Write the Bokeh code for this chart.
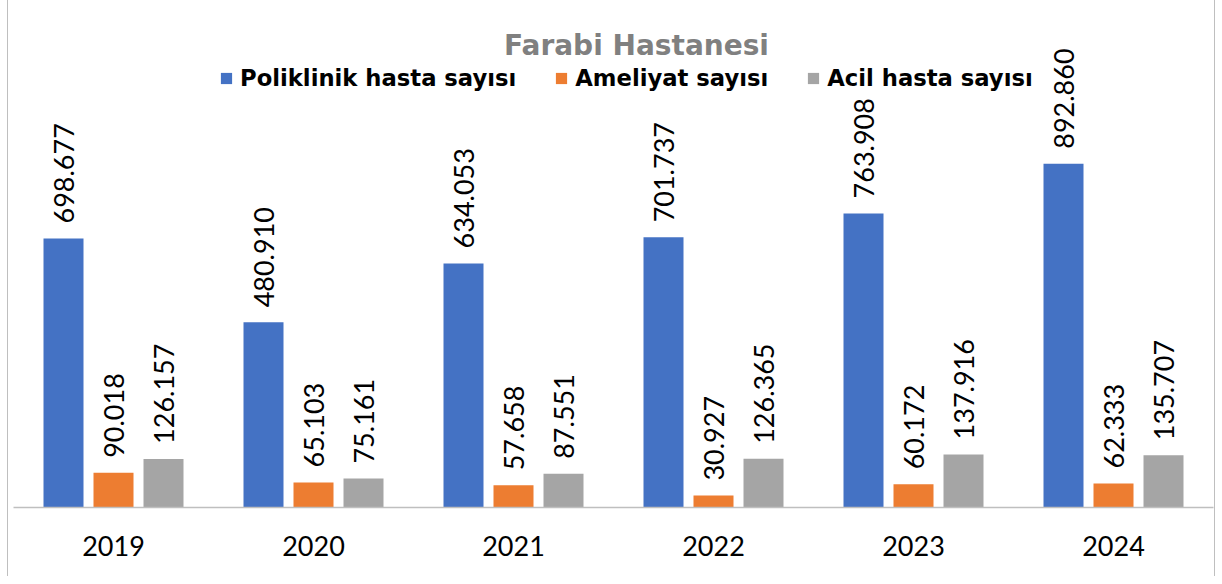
import math
from bokeh.plotting import figure
from bokeh.models import ColumnDataSource, FactorRange, Range1d, Label, Legend, LegendItem
from bokeh.transform import dodge
from bokeh.core.properties import value
from bokeh.embed import file_html
from bokeh.resources import INLINE

years = ["2019", "2020", "2021", "2022", "2023", "2024"]
poliklinik = [698677, 480910, 634053, 701737, 763908, 892860]
ameliyat = [90018, 65103, 57658, 30927, 60172, 62333]
acil = [126157, 75161, 87551, 126365, 137916, 135707]
series_names = ["Poliklinik hasta sayısı", "Ameliyat sayısı", "Acil hasta sayısı"]
colors = ["#4472C4", "#ED7D31", "#A5A5A5"]
title_text = "Farabi Hastanesi"

def fmt(v):
    return f"{v:,}".replace(",", ".")

src = ColumnDataSource(dict(
    year=years,
    pol=poliklinik, ame=ameliyat, aci=acil,
    pol_l=[fmt(v) for v in poliklinik],
    ame_l=[fmt(v) for v in ameliyat],
    aci_l=[fmt(v) for v in acil],
))

FONT = "Lato"
BOLD_FONT = "DejaVu Sans"

p = figure(width=1208, height=576, x_range=FactorRange(*years, range_padding=0),
           y_range=Range1d(0, 1317000), output_backend="svg", toolbar_location=None,
           min_border_left=5, min_border_right=3, min_border_top=0, min_border_bottom=69)
p.styles = {"margin-left": "7px", "border-left": "1px solid #BFBFBF",
            "border-right": "1px solid #BFBFBF"}
p.outline_line_color = None
p.grid.visible = False
p.yaxis.visible = False

fields = ["pol", "ame", "aci"]
offsets = [-0.25, 0.0, 0.25]
items = []
for f, off, c, name in zip(fields, offsets, colors, series_names):
    r = p.vbar(x=dodge("year", off, range=p.x_range), top=f, width=0.2, source=src,
               fill_color=c, line_color=None)
    items.append(LegendItem(label=name, renderers=[r]))
    p.text(x=dodge("year", off, range=p.x_range), y=f, text=f + "_l", source=src,
           angle=math.pi / 2, text_align="left", text_baseline="middle", y_offset=-15,
           text_font=value(FONT), text_font_size="27px", text_color="#000000")

legend = Legend(items=items, orientation="horizontal", location=(206, 416),
                label_text_font=BOLD_FONT, label_text_font_size="22.7px", label_text_font_style="bold",
                label_text_color="#000000", glyph_width=14, glyph_height=14, label_standoff=7,
                spacing=38, padding=0, margin=0, border_line_alpha=0, background_fill_alpha=0)
p.add_layout(legend, "center")

p.xaxis.axis_line_color = "#BFBFBF"
p.xaxis.axis_line_width = 1.5
p.xaxis.major_tick_line_color = None
p.xaxis.minor_tick_line_color = None
p.xaxis.major_label_standoff = 22
p.xaxis.major_label_text_font = FONT
p.xaxis.major_label_text_font_size = "27px"
p.xaxis.major_label_text_color = "#000000"

title = Label(x=623, y=462, x_units="screen", y_units="screen", text=title_text,
              text_align="center", text_baseline="middle", text_font=BOLD_FONT,
              text_font_size="28px", text_font_style="bold", text_color="#808080")
p.add_layout(title)

open("out.html", "w").write(file_html(p, INLINE))
